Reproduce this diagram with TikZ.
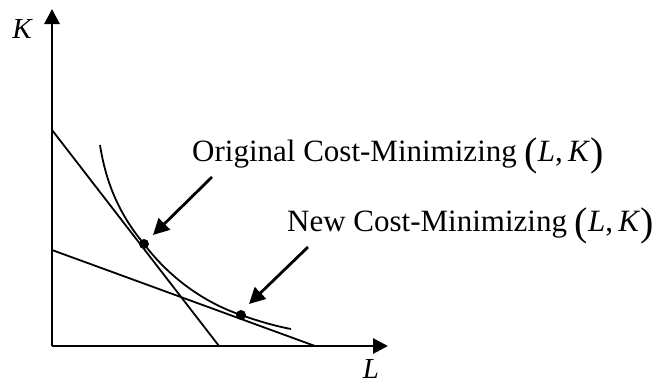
\documentclass[tikz,border=0pt]{standalone}
\usepackage{fontspec}
\setmainfont{Liberation Serif}
\usetikzlibrary{arrows.meta}
\newcommand{\bigparL}{\raisebox{-4pt}{\fontsize{40}{40}\selectfont(}}
\newcommand{\bigparR}{\raisebox{-4pt}{\fontsize{40}{40}\selectfont)}}
\tikzset{
  axis/.style={line width=2.8pt,-{Triangle[length=15pt,width=15pt]}},
  budget/.style={line width=1.8pt},
  iso/.style={line width=1.8pt},
  pointer/.style={line width=2.8pt,-{Triangle[length=16pt,width=16pt]}},
  lbl/.style={font=\fontsize{31}{34}\selectfont,inner sep=0pt},
  axlbl/.style={font=\fontsize{29}{32}\selectfont\itshape,inner sep=0pt,text depth=0pt},
  dot/.style={circle,fill=black,inner sep=0pt,minimum size=10pt}
}
\begin{document}
\begin{tikzpicture}[x=1pt,y=-1pt]
\useasboundingbox (0,0) rectangle (660,383);
\coordinate (O) at (52,346);
\coordinate (Ktop) at (52,9);
\coordinate (Lend) at (388,346);
\draw[axis] (O) -- (Ktop);
\draw[axis] (O) -- (Lend);
\node[axlbl,anchor=base] (Klab) at (22,38) {K};
\node[axlbl,anchor=base] (Llab) at (371,378) {L};
% budget lines
\coordinate (A1) at (52,130);
\coordinate (B1) at (219,346);
\coordinate (A2) at (52,250);
\coordinate (B2) at (315,346);
\draw[budget] (A1) -- (B1);
\draw[budget] (A2) -- (B2);
% isoquant
\coordinate (I0) at (100,145);
\coordinate (P1) at (144,244);
\coordinate (P2) at (241,315);
\coordinate (I3) at (291,329);
\draw[iso] (I0) .. controls (107,190) and (124,220) .. (P1)
  .. controls (169,277) and (203,302) .. (P2)
  .. controls (258,321) and (275,326) .. (I3);
\node[dot] (d1) at (P1) {};
\node[dot] (d2) at (P2) {};
% labels
\node[lbl,anchor=base west] (t1) at (192,161) {Original Cost-Minimizing \bigparL\textit{L},\,\textit{K}\bigparR};
\node[lbl,anchor=base west] (t2) at (287,231) {New Cost-Minimizing \bigparL\textit{L},\,\textit{K}\bigparR};
\coordinate (s1) at (212,177);
\coordinate (e1) at (153,235);
\coordinate (s2) at (308,247);
\coordinate (e2) at (249,304);
\draw[pointer] (s1) -- (e1);
\draw[pointer] (s2) -- (e2);
\end{tikzpicture}
\end{document}
